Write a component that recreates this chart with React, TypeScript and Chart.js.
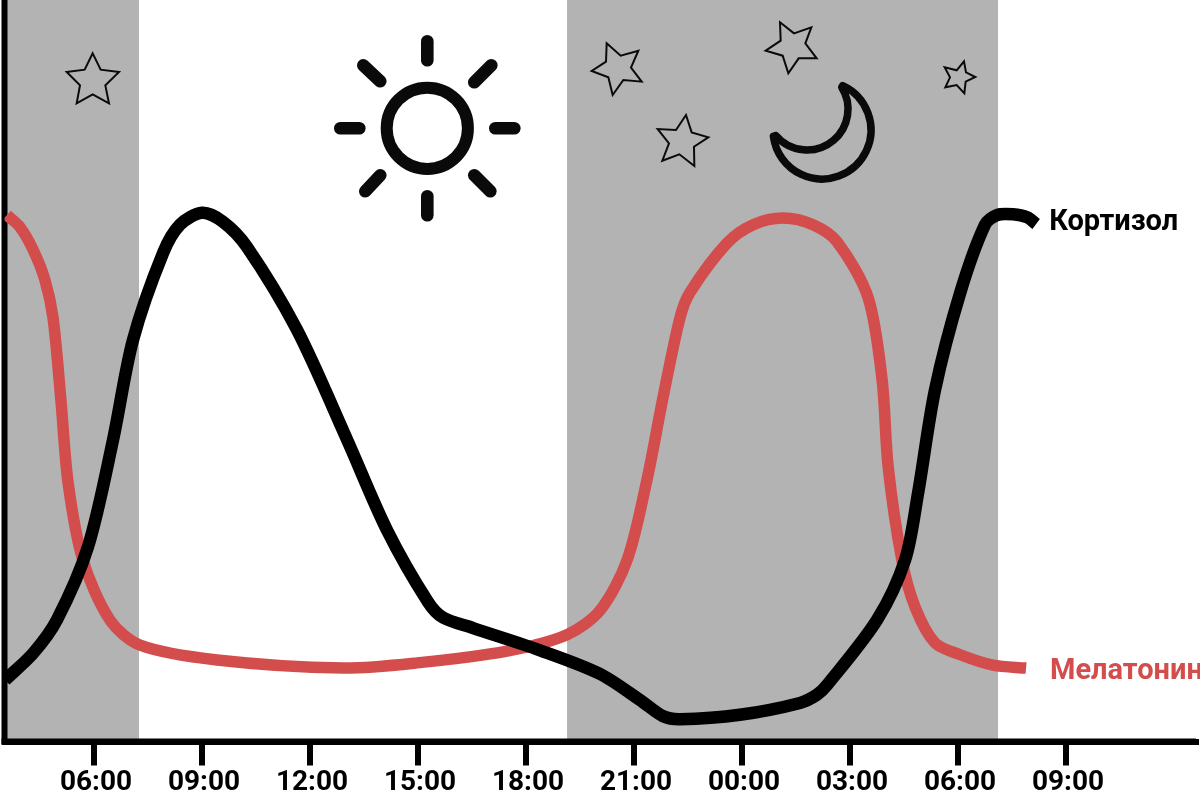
import React, { useEffect, useRef } from "react";
import { Chart, registerables } from "chart.js";

Chart.register(...registerables);

const tickHours = [6, 9, 12, 15, 18, 21, 24, 27, 30, 33];
const tickLabels = ["06:00", "09:00", "12:00", "15:00", "18:00", "21:00", "00:00", "03:00", "06:00", "09:00"];

const cortisolHours = [3.53, 4.31, 4.97, 5.83, 6.53, 7.08, 7.92, 8.39, 9.0, 9.58, 10.25, 11.64, 13.03, 14.14, 15.28, 15.7, 16.53, 18.39, 20.06, 21.25, 21.81, 22.28, 23.94, 25.61, 26.08, 26.36, 27.75, 28.53, 28.89, 29.36, 30.06, 30.75, 31.08, 31.53, 31.92, 32.17];
const cortisolLevels = [8.3, 11.9, 16.4, 26.2, 40.7, 54.1, 65.9, 69.7, 71.3, 70.1, 66.7, 55.5, 40.7, 28.5, 18.8, 16.7, 15.3, 12.3, 9.1, 5.3, 3.4, 3.0, 3.6, 5.2, 6.3, 7.6, 16.4, 24.5, 33.5, 47.4, 60.5, 69.7, 71.0, 71.1, 70.7, 69.8];

const melatoninHours = [3.58, 3.94, 4.31, 4.64, 4.86, 5.08, 5.28, 5.69, 6.44, 7.28, 9.42, 12.92, 14.97, 17.47, 19.14, 20.06, 20.81, 21.36, 21.81, 22.28, 22.56, 23.58, 24.31, 25.14, 25.97, 26.64, 27.5, 27.89, 28.06, 28.44, 28.81, 29.36, 30.06, 30.97, 31.89];
const melatoninLevels = [71.0, 69.4, 66.3, 62.2, 57.2, 46.1, 34.9, 24.5, 16.4, 13.0, 11.0, 9.9, 10.6, 12.2, 14.4, 17.7, 24.5, 35.3, 46.5, 57.2, 60.6, 67.2, 69.7, 70.6, 69.7, 67.4, 59.9, 48.8, 37.0, 24.5, 18.1, 13.3, 11.7, 10.3, 9.9];

const nightStarts = [3.5, 19.14];
const nightEnds = [7.25, 31.11];

const BLACK = "#000000";
const RED = "#d44d4d";
const GREY = "#b3b3b3";
const FONT = "Roboto";

const STARS = [
  [278, 160, 302, 209, 357, 216, 316, 256, 327, 310, 278, 283, 230, 310, 240, 256, 200, 216, 254, 209].map((v) => v / 3),
  [110, 130, 152, 167, 205, 152, 183, 203, 215, 245, 160, 240, 128, 285, 115, 232, 65, 213, 108, 185].map((v, i) => (i % 2 ? v / 3 : 570 + v / 3)),
  [348, 345, 365, 397, 415, 412, 372, 440, 373, 498, 328, 463, 277, 482, 297, 430, 263, 387, 318, 390].map((v, i) => (i % 2 ? v / 3 : 570 + v / 3)),
  [630, 67, 672, 100, 724, 82, 706, 130, 740, 175, 686, 175, 655, 220, 638, 167, 587, 152, 632, 122].map((v, i) => (i % 2 ? v / 3 : 570 + v / 3)),
  [1182, 184, 1188, 217, 1216, 231, 1187, 245, 1183, 280, 1160, 255, 1126, 262, 1140, 232, 1124, 202, 1160, 211].map((v, i) => (i % 2 ? v / 3 : 570 + v / 3)),
];

const SUN_RAYS = [
  [0, -68, 0, -87], [0, 68, 0, 87], [-68, 0, -87, 0], [68, 0, 87, 0],
  [-64, -63, -47, -47], [64, -63, 47, -46], [-62, 63, -47, 47], [63, 63, 47, 47],
];

const nightBands = {
  id: "nightBands",
  beforeDatasetsDraw(chart: any) {
    const { ctx, chartArea, scales } = chart;
    ctx.save();
    ctx.fillStyle = GREY;
    nightStarts.forEach((s, i) => {
      const a = scales.x.getPixelForValue(s);
      const b = scales.x.getPixelForValue(nightEnds[i]);
      ctx.fillRect(a, chartArea.top, b - a, chartArea.bottom - chartArea.top);
    });
    ctx.restore();
    // redraw the axes over the bands
    ctx.save();
    ctx.fillStyle = BLACK;
    ctx.fillRect(chartArea.left - 3, 0, 6, chartArea.bottom + 3);
    ctx.fillRect(chartArea.left - 3, chartArea.bottom - 3, chartArea.right - chartArea.left + 3, 6);
    ctx.restore();
  },
};

const icons = {
  id: "icons",
  afterDatasetsDraw(chart: any) {
    const { ctx } = chart;
    ctx.save();
    ctx.strokeStyle = "#0a0a0a";
    // sun
    ctx.lineWidth = 12;
    ctx.beginPath();
    ctx.arc(427.3, 128.3, 40.6, 0, Math.PI * 2);
    ctx.stroke();
    ctx.lineCap = "round";
    ctx.lineWidth = 12.6;
    SUN_RAYS.forEach(([a, b, c, d]) => {
      ctx.beginPath();
      ctx.moveTo(427.3 + a, 128.3 + b);
      ctx.lineTo(427.3 + c, 128.3 + d);
      ctx.stroke();
    });
    // stars
    ctx.lineWidth = 2;
    ctx.lineCap = "butt";
    ctx.lineJoin = "miter";
    STARS.forEach((s) => {
      ctx.beginPath();
      for (let i = 0; i < s.length; i += 2) {
        if (i === 0) ctx.moveTo(s[i], s[i + 1]);
        else ctx.lineTo(s[i], s[i + 1]);
      }
      ctx.closePath();
      ctx.stroke();
    });
    // moon
    const tipA = [842, 87];
    const tipB = [775, 136];
    const outer = [822, 130, 49];
    const inner = [807, 109, 41];
    ctx.lineWidth = 7.5;
    ctx.lineJoin = "round";
    ctx.beginPath();
    ctx.arc(outer[0], outer[1], outer[2], Math.atan2(tipA[1] - outer[1], tipA[0] - outer[0]), Math.atan2(tipB[1] - outer[1], tipB[0] - outer[0]), false);
    ctx.arc(inner[0], inner[1], inner[2], Math.atan2(tipB[1] - inner[1], tipB[0] - inner[0]), Math.atan2(tipA[1] - inner[1], tipA[0] - inner[0]), true);
    ctx.closePath();
    ctx.stroke();
    ctx.restore();
    // series labels
    ctx.save();
    ctx.font = `bold 29px ${FONT}`;
    ctx.textBaseline = "alphabetic";
    ctx.textAlign = "left";
    chart.data.datasets.forEach((ds: any, i: number) => {
      const pts = chart.getDatasetMeta(i).data;
      const last = pts[pts.length - 1];
      ctx.fillStyle = ds.borderColor;
      ctx.fillText(ds.label, last.x + (i === 1 ? 24 : 13), last.y + (i === 1 ? 11 : 6));
    });
    ctx.restore();
  },
};

export default function App() {
  const ref = useRef<HTMLCanvasElement | null>(null);
  useEffect(() => {
    const chart = new Chart(ref.current as HTMLCanvasElement, {
      type: "line",
      data: {
        datasets: [
          {
            label: "Кортизол",
            data: cortisolHours.map((x, i) => ({ x, y: cortisolLevels[i] })),
            borderColor: BLACK,
            borderWidth: 12.5,
            borderJoinStyle: "round",
            pointRadius: 0,
            tension: 0.3,
            order: 1,
          },
          {
            label: "Мелатонин",
            data: melatoninHours.map((x, i) => ({ x, y: melatoninLevels[i] })),
            borderColor: RED,
            borderWidth: 11.5,
            borderJoinStyle: "round",
            pointRadius: 0,
            tension: 0.3,
            order: 2,
          },
        ],
      },
      options: {
        responsive: false,
        animation: false,
        layout: { padding: { left: 0, right: 4, top: 0, bottom: 0 } },
        plugins: { legend: { display: false }, tooltip: { enabled: false } },
        scales: {
          x: {
            type: "linear",
            min: 3.514,
            max: 36.61,
            afterFit(scale: any) {
              scale.height = 51.5;
            },
            afterBuildTicks(scale: any) {
              scale.ticks = tickHours.map((value) => ({ value }));
            },
            border: { display: true, color: BLACK, width: 6 },
            grid: { drawOnChartArea: false, color: BLACK, lineWidth: 6, tickLength: 24, tickWidth: 6, tickColor: BLACK },
            ticks: {
              color: BLACK,
              padding: 1,
              labelOffset: 2,
              maxRotation: 0,
              autoSkip: false,
              font: { family: FONT, weight: "bold", size: 28 },
              callback: (value: any) => tickLabels[tickHours.indexOf(value)],
            },
          },
          y: {
            min: 0,
            max: 100,
            afterFit(scale: any) {
              scale.width = 4.5;
            },
            border: { display: true, color: BLACK, width: 6 },
            grid: { display: false },
            ticks: { display: false },
          },
        },
      },
      plugins: [nightBands, icons],
    } as any);
    return () => chart.destroy();
  }, []);
  return (
    <div style={{ position: "absolute", left: 0, top: 0, width: 1200, height: 793, overflow: "hidden", background: "#fff" }}>
      <canvas ref={ref} width={1200} height={793} style={{ display: "block" }} />
    </div>
  );
}
